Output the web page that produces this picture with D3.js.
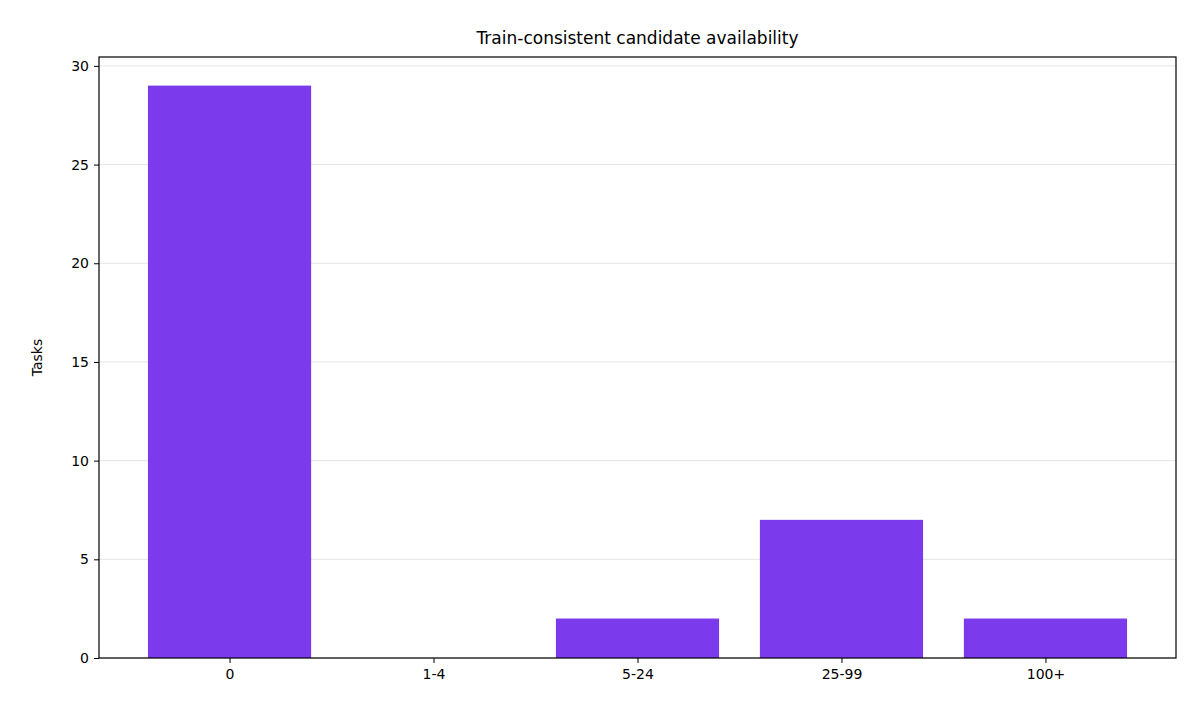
<!DOCTYPE html>
<html><head><meta charset="utf-8">
<script src="https://cdn.jsdelivr.net/npm/d3@7"></script>
<style>body{margin:0;background:#fff}svg{font-family:"DejaVu Sans",sans-serif}</style>
</head><body><svg id="c" width="1200" height="720"></svg>
<script>
const categories = ["0","1-4","5-24","25-99","100+"];
const tasks = [29,0,2,7,2];
const yTicks = [0,5,10,15,20,25,30];

const L=99,R=1176,T=57,B=658;
const svg=d3.select("#c");
const x=d3.scaleLinear().domain([-0.64,4.64]).range([L,R]);
const y=d3.scaleLinear().domain([0,30.45]).range([B,T]);
const bw=x(0.8)-x(0);

svg.append("g").selectAll("line").data(yTicks).join("line")
 .attr("x1",L).attr("x2",R).attr("y1",d=>y(d)).attr("y2",d=>y(d))
 .attr("stroke","#e5e5e5").attr("stroke-width",1);

svg.append("g").selectAll("rect").data(tasks).join("rect")
 .attr("x",(d,i)=>x(i)-bw/2).attr("width",bw)
 .attr("y",d=>y(d)).attr("height",d=>B-y(d)).attr("fill","#7c3aed");

const ya=svg.append("g").attr("transform",`translate(${L},0)`)
 .call(d3.axisLeft(y).tickValues(yTicks).tickSize(5).tickPadding(5));
const xa=svg.append("g").attr("transform",`translate(0,${B})`)
 .call(d3.axisBottom(x).tickValues(d3.range(5)).tickFormat(i=>categories[i]).tickSize(5).tickPadding(6));
[ya,xa].forEach(a=>{a.select(".domain").remove();a.selectAll("text").attr("font-size",14).attr("fill","#000").attr("font-family","DejaVu Sans");a.selectAll("line").attr("stroke","#000");});

svg.append("rect").attr("x",L).attr("y",T).attr("width",R-L).attr("height",B-T)
 .attr("fill","none").attr("stroke","#000").attr("stroke-width",1.2);

svg.append("text").attr("x",(L+R)/2).attr("y",44).attr("text-anchor","middle")
 .attr("font-size",17).text("Train-consistent candidate availability");
svg.append("text").attr("transform",`translate(42,${(T+B)/2}) rotate(-90)`)
 .attr("text-anchor","middle").attr("font-size",14).text("Tasks");
</script></body></html>
